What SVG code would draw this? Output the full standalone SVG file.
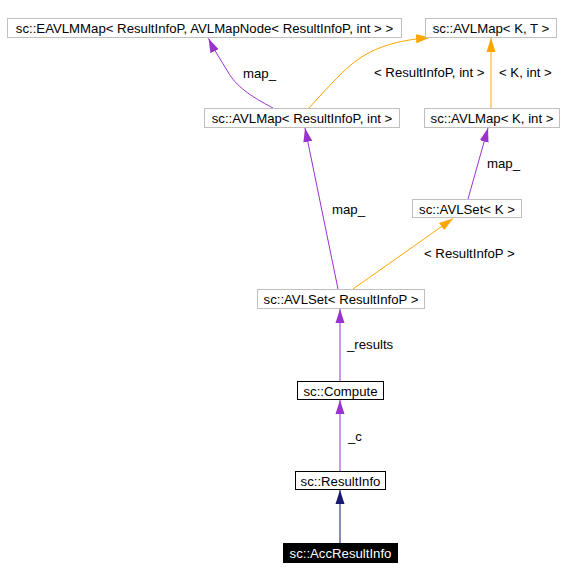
<svg xmlns="http://www.w3.org/2000/svg" width="564" height="580" viewBox="0 0 564 580">
<style>
text{font-family:"Liberation Sans",Arial,sans-serif;font-size:13.2px;fill:#000}
.n rect{fill:#fff;stroke:#bfbfbf;stroke-width:1}
.n.b rect{stroke:#000}
.n text{text-anchor:middle}
.n.k rect{fill:#000;stroke:#000}
.n.k text{fill:#fff}
.e{fill:none;stroke-width:1}
.p{stroke:#9a32cd}
.o{stroke:#ffa500}
.v{stroke:#191970}
</style>
<defs>
<marker id="mp" markerUnits="userSpaceOnUse" markerWidth="14" markerHeight="10" refX="14" refY="5" orient="auto"><path d="M0,0.5 L14,5 L0,9.5 z" fill="#9a32cd"/></marker>
<marker id="mo" markerUnits="userSpaceOnUse" markerWidth="14" markerHeight="10" refX="14" refY="5" orient="auto"><path d="M0,0.5 L14,5 L0,9.5 z" fill="#ffa500"/></marker>
<marker id="mv" markerUnits="userSpaceOnUse" markerWidth="14" markerHeight="10" refX="14" refY="5" orient="auto"><path d="M0,0.5 L14,5 L0,9.5 z" fill="#191970"/></marker>
</defs>
<rect width="564" height="580" fill="#fff"/>
<g id="edges">
<path class="e p" d="M273,108 C250,96 236,86 228,72 C221,60 214,50 208.5,38.5" marker-end="url(#mp)"/>
<path class="e o" d="M309,108 C330,85 345,68 360,58 C378,46 400,40 430,37.5" marker-end="url(#mo)"/>
<path class="e o" d="M491,108 L491,38" marker-end="url(#mo)"/>
<path class="e p" d="M468,199 L488,128" marker-end="url(#mp)"/>
<path class="e p" d="M338,289 L305,128" marker-end="url(#mp)"/>
<path class="e o" d="M353,289 L453,218.5" marker-end="url(#mo)"/>
<path class="e p" d="M340,381 L340,309" marker-end="url(#mp)"/>
<path class="e p" d="M340,471 L340,400" marker-end="url(#mp)"/>
<path class="e v" d="M340,543 L340,490" marker-end="url(#mv)"/>
<text x="243" y="78">map_</text>
<text x="374" y="77">&lt; ResultInfoP, int &gt;</text>
<text x="499" y="77">&lt; K, int &gt;</text>
<text x="487" y="168">map_</text>
<text x="332" y="214">map_</text>
<text x="424" y="258">&lt; ResultInfoP &gt;</text>
<text x="347" y="349">_results</text>
<text x="348" y="441">_c</text>
</g>
<g id="n_eavlmmap" class="n"><rect x="7.5" y="18.5" width="394" height="19"/><text x="204.5" y="33">sc::EAVLMMap&lt; ResultInfoP, AVLMapNode&lt; ResultInfoP, int &gt; &gt;</text></g>
<g id="n_avlmap_kt" class="n"><rect x="425.5" y="18.5" width="131" height="19"/><text x="491" y="33">sc::AVLMap&lt; K, T &gt;</text></g>
<g id="n_avlmap_rip" class="n"><rect x="204.5" y="108.5" width="195" height="19"/><text x="302" y="123">sc::AVLMap&lt; ResultInfoP, int &gt;</text></g>
<g id="n_avlmap_kint" class="n"><rect x="424.5" y="108.5" width="135" height="19"/><text x="492" y="123">sc::AVLMap&lt; K, int &gt;</text></g>
<g id="n_avlset_k" class="n"><rect x="412.5" y="199.5" width="109" height="18"/><text x="467" y="213.5">sc::AVLSet&lt; K &gt;</text></g>
<g id="n_avlset_rip" class="n"><rect x="257.5" y="289.5" width="167" height="19"/><text x="341" y="304">sc::AVLSet&lt; ResultInfoP &gt;</text></g>
<g id="n_compute" class="n b"><rect x="297.5" y="381.5" width="86" height="18"/><text x="340.5" y="395.5">sc::Compute</text></g>
<g id="n_resultinfo" class="n b"><rect x="295.5" y="471.5" width="90" height="18"/><text x="340.5" y="485.5">sc::ResultInfo</text></g>
<g id="n_accresultinfo" class="n k"><rect x="283.5" y="543.5" width="114" height="19"/><text x="340.5" y="558">sc::AccResultInfo</text></g>
</svg>
